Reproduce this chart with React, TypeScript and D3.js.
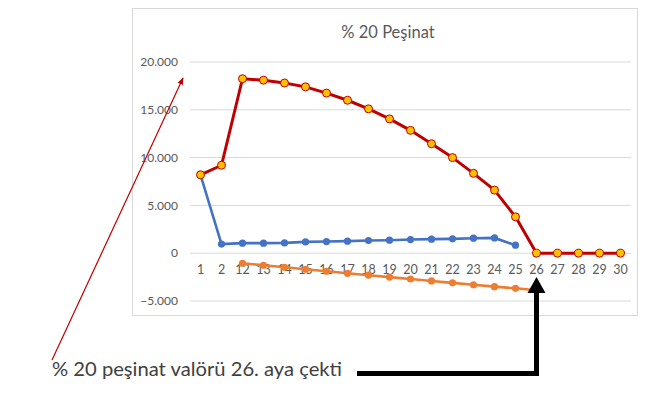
import React from 'react';
import * as d3 from 'd3';

// categories (months) shown on the x axis
const months = ['1', '2', '12', '13', '14', '15', '16', '17', '18', '19', '20', '21', '22', '23', '24', '25', '26', '27', '28', '29', '30'];

// red series (balance)
const bakiye: (number | null)[] = [8200, 9200, 18250, 18100, 17800, 17400, 16750, 16000, 15100, 14050, 12850, 11450, 10000, 8350, 6600, 3800, 0, 0, 0, 0, 0];
// blue series
const mavi: (number | null)[] = [8200, 950, 1050, 1050, 1080, 1180, 1220, 1260, 1330, 1360, 1430, 1470, 1500, 1570, 1600, 840, null, null, null, null, null];
// orange series
const turuncu: (number | null)[] = [null, null, -1050, -1260, -1470, -1680, -1890, -2100, -2300, -2500, -2700, -2900, -3100, -3300, -3500, -3670, -3880, null, null, null, null];

const yTicks = [-5000, 0, 5000, 10000, 15000, 20000];

const W = 660;
const H = 393;
const font = 'Lato, "Open Sans", sans-serif';

const fmt = (v: number) => d3.format(',')(v).replace(/,/g, '.');

export default function App() {
  const x = d3.scaleBand<string>().domain(months).range([190, 631]).padding(0);
  const y = d3.scaleLinear().domain([-5000, 20000]).range([301, 62]);
  const cx = (m: string) => (x(m) as number) + x.bandwidth() / 2;

  const line = d3
    .line<number | null>()
    .defined((d) => d !== null)
    .x((_, i) => cx(months[i]))
    .y((d) => y(d as number));

  const tip = cx('26');

  return (
    <div style={{ position: 'absolute', left: 0, top: 0 }}>
      <svg width={W} height={H} style={{ display: 'block', background: '#fff' }}>
        <rect x={132.5} y={8.5} width={505} height={307} fill="#fff" stroke="#d9d9d9" />
        <text x={388} y={38} textAnchor="middle" fontFamily={font} fontSize={16.5} fill="#595959">
          % 20 Peşinat
        </text>

        {yTicks.map((t) => (
          <g key={t}>
            <line x1={190} x2={631} y1={y(t)} y2={y(t)} stroke="#d9d9d9" strokeWidth={1} />
            <text x={178} y={y(t)} dy="0.35em" textAnchor="end" fontFamily={font} fontSize={12} fill="#595959">
              {fmt(t)}
            </text>
          </g>
        ))}

        {months.map((m) => (
          <text key={m} x={cx(m)} y={270} dy="0.35em" textAnchor="middle" fontFamily={font} fontSize={12.5} fill="#595959">
            {m}
          </text>
        ))}

        <path d={line(turuncu) || ''} fill="none" stroke="#ed7d31" strokeWidth={2.6} />
        {turuncu.map((d, i) =>
          d === null ? null : <circle key={'o' + i} cx={cx(months[i])} cy={y(d)} r={3.6} fill="#ed7d31" />
        )}

        <path d={line(mavi) || ''} fill="none" stroke="#4472c4" strokeWidth={2.6} />
        {mavi.map((d, i) =>
          d === null ? null : <circle key={'b' + i} cx={cx(months[i])} cy={y(d)} r={3.6} fill="#4472c4" />
        )}

        <path d={line(bakiye) || ''} fill="none" stroke="#c00000" strokeWidth={3} strokeLinejoin="round" />
        {bakiye.map((d, i) =>
          d === null ? null : (
            <circle key={'r' + i} cx={cx(months[i])} cy={y(d)} r={4} fill="#ffc000" stroke="#c00000" strokeWidth={1} />
          )
        )}

        {/* thin red annotation arrow */}
        <defs>
          <marker id="redHead" viewBox="0 0 10 10" refX={9} refY={5} markerWidth={6} markerHeight={6} orient="auto">
            <path d="M0,1 L10,5 L0,9 z" fill="#c00000" />
          </marker>
        </defs>
        <line x1={52} y1={360} x2={183} y2={78} stroke="#c00000" strokeWidth={1.2} markerEnd="url(#redHead)" />

        <text x={52} y={376} fontFamily={font} fontSize={20} fill="#404040" textLength={290} lengthAdjust="spacingAndGlyphs">
          % 20 peşinat valörü 26. aya çekti
        </text>

        {/* black elbow arrow pointing at month 26 */}
        <path d={`M357,373.5 H${tip} V292`} fill="none" stroke="#000" strokeWidth={5} />
        <path d={`M${tip - 9},293 L${tip},277 L${tip + 9},293 z`} fill="#000" />
      </svg>
    </div>
  );
}
